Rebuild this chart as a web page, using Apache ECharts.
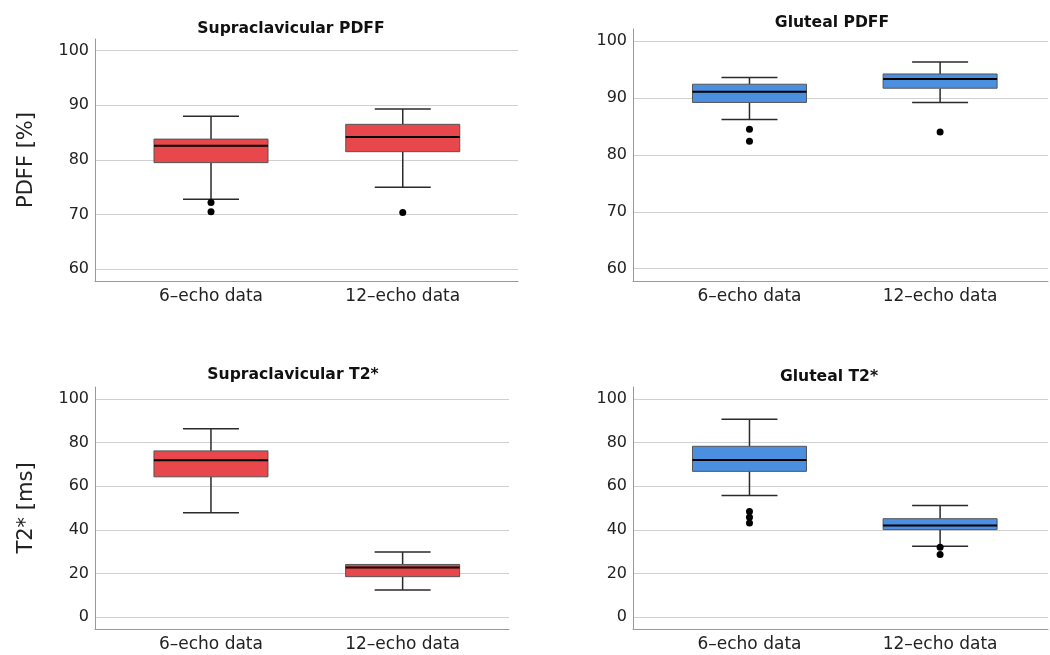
<!DOCTYPE html>
<html>
<head>
<meta charset="utf-8">
<script src="https://cdn.jsdelivr.net/npm/echarts@6/dist/echarts.min.js"></script>
<style>
  html, body { margin: 0; padding: 0; background: #fff; }
  #main { width: 1050px; height: 655px; }
</style>
</head>
<body>
<div id="main"></div>
<script>
// categories and tick labels
var categories = ['6–echo data', '12–echo data'];
var pdffTicks = [60, 70, 80, 90, 100];
var t2Ticks = [0, 20, 40, 60, 80, 100];

// box stats: [min whisker, Q1, median, Q3, max whisker]
var supraPdff = [[72.8, 79.5, 82.6, 83.8, 88.0], [75.0, 81.5, 84.2, 86.5, 89.3]];
var glutPdff = [[86.2, 89.2, 91.1, 92.4, 93.6], [89.2, 91.7, 93.3, 94.2, 96.3]];
var supraT2 = [[47.8, 64.3, 71.9, 76.2, 86.4], [12.4, 18.5, 22.7, 24.1, 29.8]];
var glutT2 = [[55.7, 66.8, 72.0, 78.3, 90.7], [32.5, 40.1, 42.0, 45.1, 51.2]];

// outliers: [category index, value]
var supraPdffOut = [[0, 72.2], [0, 70.5], [1, 70.4]];
var glutPdffOut = [[0, 84.5], [0, 82.4], [1, 84.0]];
var supraT2Out = [];
var glutT2Out = [[0, 48.4], [0, 45.8], [0, 43.1], [1, 32.0], [1, 28.7]];

var RED = '#e8474b';
var BLUE = '#4a8fe0';
var boxW = 114, capW = 56;
var font = 'DejaVu Sans';

var myChart = echarts.init(document.getElementById('main'));

function renderBox(params, api) {
  var x = api.value(0);
  var lo = api.coord([x, api.value(1)]);
  var q1 = api.coord([x, api.value(2)]);
  var md = api.coord([x, api.value(3)]);
  var q3 = api.coord([x, api.value(4)]);
  var hi = api.coord([x, api.value(5)]);
  var cx = md[0];
  var ws = { stroke: '#2a2a2a', lineWidth: 1.5 };
  return {
    type: 'group',
    children: [
      { type: 'line', shape: { x1: cx, y1: hi[1], x2: cx, y2: q3[1] }, style: ws },
      { type: 'line', shape: { x1: cx, y1: q1[1], x2: cx, y2: lo[1] }, style: ws },
      { type: 'line', shape: { x1: cx - capW / 2, y1: hi[1], x2: cx + capW / 2, y2: hi[1] }, style: ws },
      { type: 'line', shape: { x1: cx - capW / 2, y1: lo[1], x2: cx + capW / 2, y2: lo[1] }, style: ws },
      { type: 'rect', shape: { x: cx - boxW / 2, y: q3[1], width: boxW, height: q1[1] - q3[1] },
        style: { fill: api.visual('color'), stroke: '#555', lineWidth: 1 } },
      { type: 'line', shape: { x1: cx - boxW / 2, y1: md[1], x2: cx + boxW / 2, y2: md[1] },
        style: { stroke: '#000', lineWidth: 2 } }
    ]
  };
}

function boxData(stats) {
  return stats.map(function (s, i) { return [i].concat(s); });
}

function xAxisFor(idx, min, max) {
  return {
    type: 'value', gridIndex: idx, min: min, max: max,
    axisLine: { show: true, onZero: false, lineStyle: { color: '#999', width: 1 } },
    axisTick: { show: false },
    splitLine: { show: false },
    axisLabel: {
      customValues: [0, 1],
      color: '#222', fontSize: 17, fontFamily: font, margin: 7,
      formatter: function (v) { return categories[Math.round(v)]; }
    }
  };
}

function yAxisFor(idx, min, max, ticks, name) {
  return {
    type: 'value', gridIndex: idx, min: min, max: max,
    name: name, nameLocation: 'middle', nameGap: 58,
    nameTextStyle: { color: '#222', fontSize: 21, fontFamily: font },
    axisLine: { show: true, onZero: false, lineStyle: { color: '#999', width: 1 } },
    axisTick: { show: false, customValues: ticks },
    splitLine: { show: true, lineStyle: { color: '#d0d0d0', width: 1 } },
    axisLabel: { customValues: ticks, color: '#222', fontSize: 16, fontFamily: font, margin: 6 }
  };
}

function titleFor(text, x, y) {
  return {
    text: text, left: x, top: y, textAlign: 'center', textVerticalAlign: 'middle',
    textStyle: { fontSize: 15.6, fontWeight: 'bold', color: '#111', fontFamily: font }
  };
}

var panels = [
  { stats: supraPdff, out: supraPdffOut, color: RED },
  { stats: glutPdff, out: glutPdffOut, color: BLUE },
  { stats: supraT2, out: supraT2Out, color: RED },
  { stats: glutT2, out: glutT2Out, color: BLUE }
];

var series = [];
panels.forEach(function (p, i) {
  series.push({
    type: 'custom', xAxisIndex: i, yAxisIndex: i,
    itemStyle: { color: p.color },
    renderItem: renderBox,
    encode: { x: 0, y: [1, 2, 3, 4, 5] },
    data: boxData(p.stats),
    silent: true
  });
  series.push({
    type: 'scatter', xAxisIndex: i, yAxisIndex: i,
    symbol: 'circle', symbolSize: 7,
    itemStyle: { color: '#000', opacity: 1 },
    data: p.out,
    z: 5,
    silent: true
  });
});

var option = {
  backgroundColor: '#fff',
  animation: false,
  title: [
    titleFor('Supraclavicular PDFF', 286, 24),
    titleFor('Gluteal PDFF', 827, 18),
    titleFor('Supraclavicular T2*', 288, 370),
    titleFor('Gluteal T2*', 824, 372)
  ],
  grid: [
    { left: 95, top: 39, width: 423, height: 242 },
    { left: 633, top: 29, width: 415, height: 252 },
    { left: 95, top: 387, width: 414, height: 242 },
    { left: 633, top: 387, width: 415, height: 242 }
  ],
  xAxis: [
    xAxisFor(0, -0.605, 1.601),
    xAxisFor(1, -0.611, 1.566),
    xAxisFor(2, -0.605, 1.555),
    xAxisFor(3, -0.611, 1.566)
  ],
  yAxis: [
    yAxisFor(0, 57.86, 102.1, pdffTicks, 'PDFF [%]'),
    yAxisFor(1, 57.84, 102.1, pdffTicks, ''),
    yAxisFor(2, -5.5, 105.5, t2Ticks, 'T2* [ms]'),
    yAxisFor(3, -5.5, 105.5, t2Ticks, '')
  ],
  series: series
};

myChart.setOption(option);
</script>
</body>
</html>
